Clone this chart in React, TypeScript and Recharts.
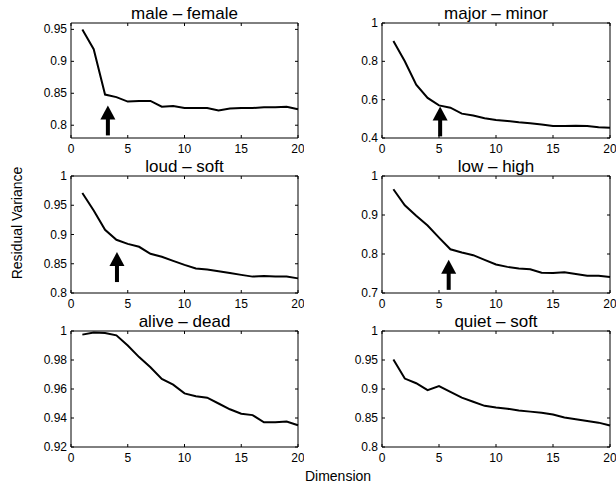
import React from 'react';
import { LineChart, Line, XAxis, YAxis, ReferenceArea, ReferenceDot } from 'recharts';

// dimension index shared by every panel
const dims = [1, 2, 3, 4, 5, 6, 7, 8, 9, 10, 11, 12, 13, 14, 15, 16, 17, 18, 19, 20];
const xTicks = [0, 5, 10, 15, 20];

// residual variance per panel
const maleFemale = [0.95, 0.919, 0.848, 0.844, 0.837, 0.838, 0.838, 0.829, 0.83, 0.827, 0.827, 0.827, 0.823, 0.826, 0.827, 0.827, 0.828, 0.828, 0.829, 0.825];
const majorMinor = [0.906, 0.8, 0.678, 0.609, 0.57, 0.558, 0.527, 0.517, 0.503, 0.494, 0.489, 0.482, 0.477, 0.471, 0.463, 0.463, 0.464, 0.463, 0.456, 0.454];
const loudSoft = [0.971, 0.941, 0.908, 0.891, 0.884, 0.879, 0.867, 0.862, 0.855, 0.848, 0.842, 0.84, 0.837, 0.834, 0.831, 0.828, 0.829, 0.828, 0.828, 0.825];
const lowHigh = [0.966, 0.925, 0.898, 0.873, 0.842, 0.812, 0.804, 0.797, 0.785, 0.773, 0.767, 0.763, 0.761, 0.752, 0.751, 0.753, 0.749, 0.744, 0.744, 0.741];
const aliveDead = [0.9975, 0.999, 0.9986, 0.997, 0.99, 0.982, 0.975, 0.967, 0.963, 0.957, 0.955, 0.954, 0.95, 0.946, 0.943, 0.942, 0.937, 0.937, 0.9375, 0.935];
const quietSoft = [0.951, 0.918, 0.91, 0.898, 0.905, 0.895, 0.885, 0.878, 0.871, 0.868, 0.866, 0.863, 0.861, 0.859, 0.856, 0.851, 0.848, 0.845, 0.842, 0.837];

// y ranges and ticks
const domMF = [0.78, 0.96];
const ticksMF = [0.8, 0.85, 0.9, 0.95];
const domMM = [0.4, 1];
const ticksMM = [0.4, 0.6, 0.8, 1];
const domLS = [0.8, 1];
const ticksLS = [0.8, 0.85, 0.9, 0.95, 1];
const domLH = [0.7, 1];
const ticksLH = [0.7, 0.8, 0.9, 1];
const domAD = [0.92, 1];
const ticksAD = [0.92, 0.94, 0.96, 0.98, 1];
const domQS = [0.8, 1];
const ticksQS = [0.8, 0.85, 0.9, 0.95, 1];

// arrow tips (dimension, value)
const arrowMF = [3.25, 0.831];
const arrowMM = [5.1, 0.565];
const arrowLS = [4.05, 0.87];
const arrowLH = [5.85, 0.785];

const FONT = '"Liberation Sans", Arial, Helvetica, sans-serif';
const YW = 50;
const MT = 26;
const MR = 6;
const XH = 24;
const colLeft = [71, 382];
const colWidth = [227, 228];
const rowTop = [23, 176, 331];
const rowHeight = [115, 117, 116];

const panels = [
  { title: 'male \u2013 female', values: maleFemale, domain: domMF, ticks: ticksMF, arrow: arrowMF, col: 0, row: 0 },
  { title: 'major \u2013 minor', values: majorMinor, domain: domMM, ticks: ticksMM, arrow: arrowMM, col: 1, row: 0 },
  { title: 'loud \u2013 soft', values: loudSoft, domain: domLS, ticks: ticksLS, arrow: arrowLS, col: 0, row: 1 },
  { title: 'low \u2013 high', values: lowHigh, domain: domLH, ticks: ticksLH, arrow: arrowLH, col: 1, row: 1 },
  { title: 'alive \u2013 dead', values: aliveDead, domain: domAD, ticks: ticksAD, arrow: null, col: 0, row: 2 },
  { title: 'quiet \u2013 soft', values: quietSoft, domain: domQS, ticks: ticksQS, arrow: null, col: 1, row: 2 },
];

const Arrow = (props: any) => {
  const { cx, cy } = props;
  return (
    <g>
      <polygon points={`${cx},${cy} ${cx - 7.5},${cy + 14} ${cx + 7.5},${cy + 14}`} fill="#000" />
      <rect x={cx - 2} y={cy + 13} width={4} height={17} fill="#000" />
    </g>
  );
};

const Panel = ({ p }: { p: any }) => {
  const plotW = colWidth[p.col];
  const plotH = rowHeight[p.row];
  const w = YW + plotW + MR;
  const h = MT + plotH + XH;
  const plotTop = MT;
  const plotRight = YW + plotW;
  const data = dims.map((d, i) => ({ dim: d, v: p.values[i] }));

  // matlab style: ticks point inward, mirrored on the top and right edges
  const XTick = ({ x, y, payload }: any) => (
    <g>
      <line x1={x} x2={x} y1={y} y2={y - 3} stroke="#000" />
      <line x1={x} x2={x} y1={plotTop} y2={plotTop + 3} stroke="#000" />
      <text x={x} y={y + 15} textAnchor="middle" fontSize={12} fill="#000" fontFamily={FONT}>
        {payload.value}
      </text>
    </g>
  );
  const YTick = ({ x, y, payload }: any) => (
    <g>
      <line x1={x} x2={x + 3} y1={y} y2={y} stroke="#000" />
      <line x1={plotRight} x2={plotRight - 3} y1={y} y2={y} stroke="#000" />
      <text x={x - 4} y={y + 4} textAnchor="end" fontSize={12} fill="#000" fontFamily={FONT}>
        {payload.value}
      </text>
    </g>
  );

  return (
    <div style={{ position: 'absolute', left: colLeft[p.col] - YW, top: rowTop[p.row] - MT, width: w, height: h }}>
      <div
        style={{
          position: 'absolute', left: YW, width: plotW, top: 0, height: MT - 1,
          display: 'flex', alignItems: 'flex-end', justifyContent: 'center',
          fontSize: 17, fontFamily: FONT, lineHeight: 1, color: '#000', whiteSpace: 'nowrap',
        }}
      >
        {p.title}
      </div>
      <LineChart width={w} height={h} data={data} margin={{ top: MT, right: MR, bottom: 0, left: 0 }}>
        <XAxis
          dataKey="dim" type="number" domain={[0, 20]} ticks={xTicks} interval={0}
          tickSize={0} tickMargin={0} axisLine={false} tickLine={false} height={XH} tick={XTick}
        />
        <YAxis
          type="number" domain={p.domain} ticks={p.ticks} interval={0} allowDataOverflow
          tickSize={0} tickMargin={0} axisLine={false} tickLine={false} width={YW} tick={YTick}
        />
        <ReferenceArea
          x1={0} x2={20} y1={p.domain[0]} y2={p.domain[1]}
          fill="none" fillOpacity={0} stroke="#000" strokeWidth={1} ifOverflow="visible"
        />
        <Line type="linear" dataKey="v" stroke="#000" strokeWidth={2} dot={false} isAnimationActive={false} />
        {p.arrow && (
          <ReferenceDot x={p.arrow[0]} y={p.arrow[1]} shape={Arrow} ifOverflow="visible" />
        )}
      </LineChart>
    </div>
  );
};

export default function App() {
  return (
    <div style={{ position: 'absolute', left: 0, top: 0, width: 616, height: 486, background: '#fff', overflow: 'hidden' }}>
      {panels.map((p) => (
        <Panel key={p.title} p={p} />
      ))}
      <div
        style={{
          position: 'absolute', left: 17, top: 223, transform: 'translate(-50%, -50%) rotate(-90deg)',
          fontSize: 14, fontFamily: FONT, whiteSpace: 'nowrap', color: '#000',
        }}
      >
        Residual Variance
      </div>
      <div
        style={{
          position: 'absolute', left: 338, top: 476, transform: 'translate(-50%, -50%)',
          fontSize: 14, fontFamily: FONT, whiteSpace: 'nowrap', color: '#000',
        }}
      >
        Dimension
      </div>
    </div>
  );
}
